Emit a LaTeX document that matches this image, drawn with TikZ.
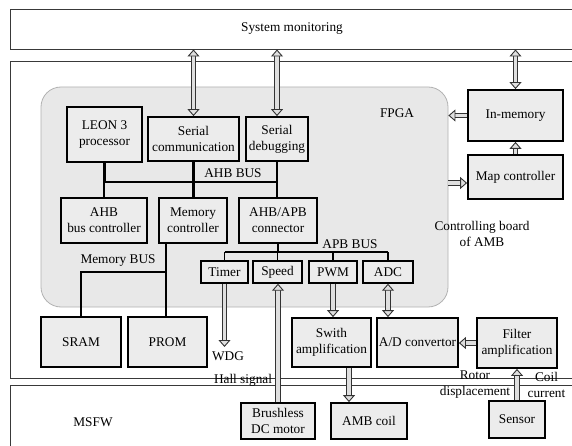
\documentclass[tikz,border=0pt]{standalone}
\usepackage{fontspec}
\setmainfont{Liberation Serif}
\usetikzlibrary{arrows.meta}
\begin{document}
\begin{tikzpicture}[x=1pt,y=-1pt,
  every node/.style={font=\fontsize{13.3}{16}\selectfont},
  box/.style={draw=black, line width=1.8pt, fill=gray!15, align=center, inner sep=0pt},
  frame/.style={draw=gray!45!black, line width=0.9pt},
  bus/.style={line width=2.4pt, line cap=rect},
  thinbus/.style={line width=1.1pt},
  barrow/.style={draw=gray!40!black, line width=0.9pt, double=gray!25, double distance=3.6pt,
     >={Triangle[length=7pt,width=12pt,fill=gray!25]}},
  lbl/.style={inner sep=0pt, align=center}]
\useasboundingbox (0,0) rectangle (572,446);
\clip (0,0) rectangle (572,446);
\fill[white] (0,0) rectangle (572,446);
% outer frames
\draw[frame] (10,9) rectangle (600,49);
\draw[frame] (10,61) rectangle (600,378);
\draw[frame] (10,385) rectangle (600,470);
% FPGA
\node[draw=gray!60, line width=0.8pt, fill=gray!18, rounded corners=20pt,
      minimum width=407pt, minimum height=220pt, inner sep=0pt] (fpga) at (244.5,197) {};
% boxes
\node[box, minimum width=75pt, minimum height=55pt] (leon) at (104.5,134.5) {LEON 3\\processor};
\node[box, minimum width=91pt, minimum height=44pt] (scomm) at (193.5,139) {Serial\\communication};
\node[box, minimum width=62pt, minimum height=44pt] (sdebug) at (277,139) {Serial\\debugging};
\node[box, minimum width=86pt, minimum height=45pt] (ahbctl) at (104,220.5) {AHB\\bus controller};
\node[box, minimum width=68pt, minimum height=45pt] (memctl) at (193,220.5) {Memory\\controller};
\node[box, minimum width=78pt, minimum height=45pt] (ahbapb) at (278,220.5) {AHB/APB\\connector};
\node[box, line width=1.4pt, minimum width=47pt, minimum height=22pt] (timer) at (224.5,272) {Timer};
\node[box, line width=1.4pt, minimum width=49pt, minimum height=22pt] (speed) at (277.5,272) {Speed};
\node[box, line width=1.4pt, minimum width=48pt, minimum height=22pt] (pwm) at (333,272) {PWM};
\node[box, line width=1.4pt, minimum width=50pt, minimum height=22pt] (adc) at (388,272) {ADC};
\node[box, minimum width=80pt, minimum height=50pt] (sram) at (81,342) {SRAM};
\node[box, minimum width=79pt, minimum height=50pt] (prom) at (167.5,342) {PROM};
\node[box, minimum width=79pt, minimum height=49pt] (swith) at (331.5,342.5) {Swith\\amplification};
\node[box, minimum width=81pt, minimum height=49pt] (adconv) at (417.5,342.5) {A/D convertor};
\node[box, minimum width=80pt, minimum height=50pt] (filter) at (517,343) {Filter\\amplification};
\node[box, minimum width=74pt, minimum height=36pt] (brushless) at (278,421) {Brushless\\DC motor};
\node[box, minimum width=76pt, minimum height=36pt] (ambcoil) at (369,421) {AMB coil};
\node[box, minimum width=56pt, minimum height=37pt] (sensor) at (517,419.5) {Sensor};
\node[box, minimum width=95pt, minimum height=51pt] (inmem) at (515.5,115.5) {In-memory};
\node[box, minimum width=95pt, minimum height=44pt] (mapctl) at (515.5,177) {Map controller};
% AHB bus
\coordinate (ahbL) at (104.5,182);
\coordinate (ahbR) at (277,182);
\draw[bus] (ahbL) -- (ahbR);
\draw[bus] (leon.south) -- (leon.south |- ahbL);
\draw[bus] (ahbctl.north) -- (ahbctl.north |- ahbL);
\draw[bus] (scomm.south) -- (scomm.south |- memctl.north);
\draw[bus] (sdebug.south) -- (sdebug.south |- ahbapb.north);
% APB bus
\coordinate (apbY) at (0,252);
\draw[thinbus] (timer.north |- apbY) -- (adc.north |- apbY);
\draw[thinbus] (ahbapb.south) -- (ahbapb.south |- apbY);
\draw[thinbus] (timer.north) -- (timer.north |- apbY);
\draw[thinbus] (speed.north) -- (speed.north |- apbY);
\draw[thinbus] (pwm.north) -- (pwm.north |- apbY);
\draw[thinbus] (adc.north) -- (adc.north |- apbY);
% Memory bus
\coordinate (mb) at (166,272);
\draw[thinbus] (memctl.south -| mb) -- (prom.north -| mb);
\draw[thinbus] (sram.north) |- (mb);
% block arrows
\coordinate (sys) at (0,49.5);
\draw[barrow,<->] (scomm.north |- sys) -- (scomm.north);
\draw[barrow,<->] (sdebug.north |- sys) -- (sdebug.north);
\draw[barrow,<->] (inmem.north |- sys) -- (inmem.north);
\draw[barrow,<-] (fpga.east |- inmem.west) -- (inmem.west);
\coordinate (mapy) at (0,183);
\draw[barrow,->] (fpga.east |- mapy) -- (mapctl.west |- mapy);
\draw[barrow,->] (mapctl.north) -- (inmem.south);
\coordinate (wdg) at (224.5,347);
\draw[barrow,->] (timer.south) -- (wdg);
\draw[barrow,->] (brushless.north) -- (brushless.north |- speed.south);
\draw[barrow,->] (pwm.south) -- (pwm.south |- swith.north);
\draw[barrow,<->] (adc.south) -- (adc.south |- adconv.north);
\draw[barrow,->] (filter.west) -- (filter.west -| adconv.east);
\coordinate (coilx) at (349,0);
\draw[barrow,->] (swith.south -| coilx) -- (ambcoil.north -| coilx);
\draw[barrow,->] (sensor.north) -- (sensor.north |- filter.south);
% labels
\node[lbl] (sysl) at (292,29) {System monitoring};
\node[lbl] (fpgal) at (397,113) {FPGA};
\node[lbl] (ahbl) at (233,173) {AHB BUS};
\node[lbl] (apbl) at (350,244) {APB BUS};
\node[lbl] (cb) at (482,234) {Controlling board\\of AMB};
\node[lbl] (mbl) at (118,261) {Memory BUS};
\node[lbl] (wdgl) at (228,356) {WDG};
\node[lbl] (hall) at (243,380) {Hall signal};
\node[lbl] (msfw) at (93,422) {MSFW};
\node[lbl] (rotor) at (475,384.5) {Rotor\\displacement};
\node[lbl] (coil) at (546.5,384.5) {Coil\\current};
\end{tikzpicture}
\end{document}
